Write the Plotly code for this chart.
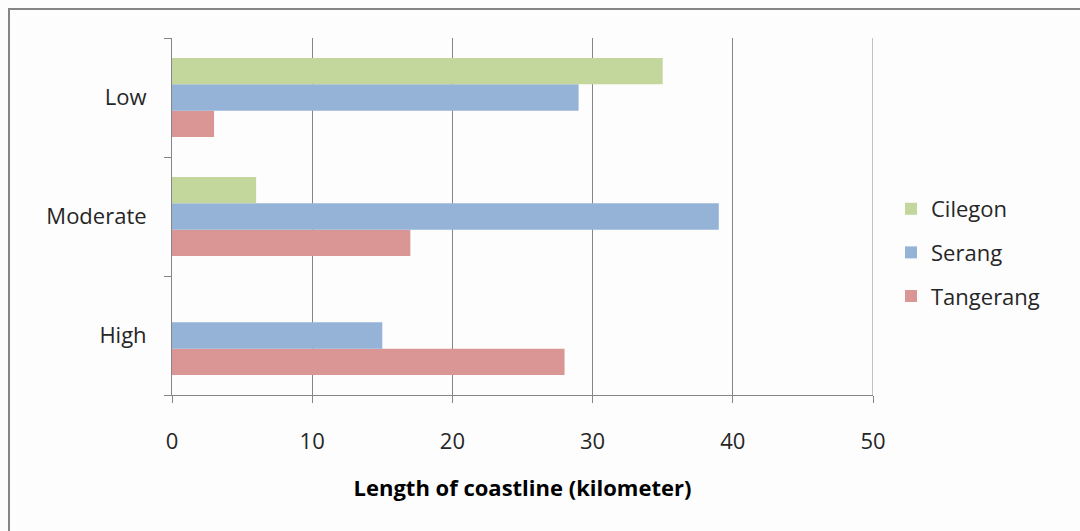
import plotly.graph_objects as go

# Coastal vulnerability classes (bottom to top on the category axis)
categories = ["High", "Moderate", "Low"]

# Length of coastline (km) per vulnerability class
tangerang = [28, 17, 3]
serang = [15, 39, 29]
cilegon = [0, 6, 35]

x_ticks = [0, 10, 20, 30, 40, 50]

# (name, values, colour, legend rank)
series = [
    ("Tangerang", tangerang, "#D99694", 3),
    ("Serang", serang, "#95B3D7", 2),
    ("Cilegon", cilegon, "#C3D69B", 1),
]

FONT = "'Open Sans', Lato, sans-serif"
TEXT = "#262626"
GRID = "#868686"

fig = go.Figure()
for name, values, color, rank in series:
    fig.add_trace(go.Bar(
        y=categories,
        x=values,
        name=name,
        orientation="h",
        marker=dict(color=color, line=dict(width=0)),
        legendgroup=name,
        legendrank=rank,
    ))

W, H = 1080, 531
L, R, T, B = 172, 207, 38, 136
pw, ph = W - L - R, H - T - B

def px_x(p):
    return (p - L) / pw

def px_y(p):
    return (H - B - p) / ph

# outer chart frame, running off the right and bottom edges
fig.add_shape(
    type="rect", xref="paper", yref="paper",
    x0=px_x(9), x1=px_x(1100), y0=px_y(9), y1=px_y(560),
    line=dict(color="#858585", width=2), fillcolor="rgba(0,0,0,0)",
    layer="below",
)

# gridline at the far end of the value axis
fig.add_shape(
    type="line", xref="x", yref="paper",
    x0=x_ticks[-1], x1=x_ticks[-1], y0=0, y1=1,
    line=dict(color=GRID, width=1), layer="below",
)

fig.update_layout(
    width=W, height=H,
    margin=dict(l=L, r=R, t=T, b=B, autoexpand=False),
    paper_bgcolor="#FDFDFD",
    plot_bgcolor="#FDFDFD",
    barmode="group",
    bargap=0.336,
    bargroupgap=0,
    font=dict(family=FONT, size=22, color=TEXT),
    legend=dict(
        x=px_x(891), y=px_y(188), xanchor="left", yanchor="top",
        traceorder="grouped",
        tracegroupgap=12,
        font=dict(size=22, color=TEXT),
        bgcolor="rgba(0,0,0,0)",
        itemwidth=30,
    ),
    xaxis=dict(
        range=[0, 50],
        tickvals=x_ticks,
        ticktext=[str(v) for v in x_ticks],
        showgrid=True, gridcolor=GRID, gridwidth=1,
        showline=True, linecolor=GRID, linewidth=1,
        ticks="outside", ticklen=7, tickcolor=GRID,
        ticklabelstandoff=20,
        zeroline=False,
        tickfont=dict(size=22),
        title=dict(
            text="<b>Length of coastline (kilometer)</b>",
            font=dict(size=22, color="#000000"),
            standoff=26,
        ),
    ),
    yaxis=dict(
        categoryorder="array", categoryarray=categories,
        showgrid=False,
        showline=True, linecolor=GRID, linewidth=1,
        ticks="outside", ticklen=7, tickcolor=GRID,
        tickson="boundaries",
        ticklabelstandoff=20,
        tickfont=dict(size=22),
        zeroline=False,
    ),
)

fig.write_html("out.html")
